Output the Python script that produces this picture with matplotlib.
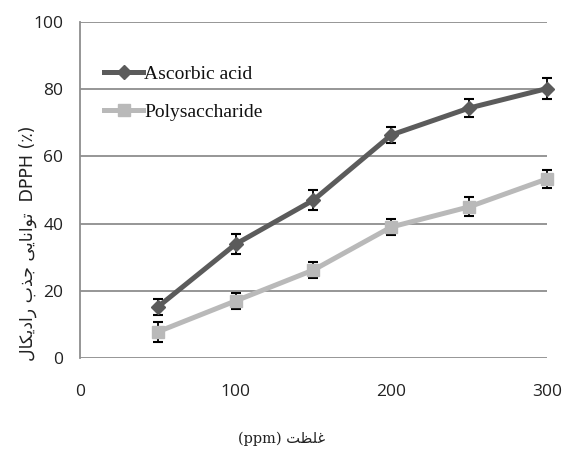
import matplotlib
matplotlib.use("Agg")
import matplotlib.pyplot as plt
from matplotlib.lines import Line2D
import numpy as np

# ---- data ----
conc = [50, 100, 150, 200, 250, 300]
ascorbic = [15.2, 33.9, 47.0, 66.4, 74.4, 80.2]
ascorbic_err = [2.5, 3.0, 3.0, 2.5, 2.8, 3.0]
poly = [7.8, 17.0, 26.2, 39.0, 45.0, 53.3]
poly_err = [3.0, 2.5, 2.5, 2.5, 2.8, 2.8]
series_names = ["Ascorbic acid", "Polysaccharide"]
xticks = [0, 100, 200, 300]
yticks = [0, 20, 40, 60, 80, 100]

# ---- minimal Arabic/Persian shaping for rendering ----
FORMS = {
    '\u062A': ('\uFE95', '\uFE96', '\uFE97', '\uFE98'),
    '\u0648': ('\uFEED', '\uFEEE', None, None),
    '\u0627': ('\uFE8D', '\uFE8E', None, None),
    '\u0646': ('\uFEE5', '\uFEE6', '\uFEE7', '\uFEE8'),
    '\u06CC': ('\uFBFC', '\uFBFD', '\uFBFE', '\uFBFF'),
    '\u062C': ('\uFE9D', '\uFE9E', '\uFE9F', '\uFEA0'),
    '\u0630': ('\uFEAB', '\uFEAC', None, None),
    '\u0628': ('\uFE8F', '\uFE90', '\uFE91', '\uFE92'),
    '\u0631': ('\uFEAD', '\uFEAE', None, None),
    '\u062F': ('\uFEA9', '\uFEAA', None, None),
    '\u06A9': ('\uFB8E', '\uFB8F', '\uFB90', '\uFB91'),
    '\u0644': ('\uFEDD', '\uFEDE', '\uFEDF', '\uFEE0'),
    '\u063A': ('\uFECD', '\uFECE', '\uFECF', '\uFED0'),
    '\u0638': ('\uFEC5', '\uFEC6', '\uFEC7', '\uFEC8'),
}


def dual(c):
    return c in FORMS and FORMS[c][2] is not None


def shape_word(w):
    out = []
    for i, c in enumerate(w):
        if c not in FORMS:
            out.append(c)
            continue
        jp = i > 0 and dual(w[i - 1])
        jn = i < len(w) - 1 and dual(c) and w[i + 1] in FORMS
        iso, fin, ini, med = FORMS[c]
        if jp and jn:
            out.append(med)
        elif jp:
            out.append(fin)
        elif jn:
            out.append(ini)
        else:
            out.append(iso)
    return ''.join(reversed(out))


ylabel_words = ["رادیکال", "جذب", "توانایی"]
ylabel_text = " ".join(shape_word(w) for w in ylabel_words) + "  DPPH (٪)"
xlabel_text = "(ppm) " + shape_word("غلظت")

# ---- figure ----
fig = plt.figure(figsize=(5.63, 4.59), dpi=100)
ax = fig.add_axes([0.142, 0.22, 0.8296, 0.732])

dark = '#5b5b5b'
light = '#b9b9b9'
ax.errorbar(conc, ascorbic, yerr=ascorbic_err, color=dark, lw=3.6,
            marker='D', ms=7, mfc=dark, mec=dark, ecolor='black',
            elinewidth=1.3, capsize=3.5, capthick=1.5, zorder=4)
ax.errorbar(conc, poly, yerr=poly_err, color=light, lw=3.6,
            marker='s', ms=9, mfc=light, mec=light, ecolor='black',
            elinewidth=1.3, capsize=3.5, capthick=1.5, zorder=3)

ax.set_xlim(0, 300)
ax.set_ylim(0, 100)
ax.set_xticks(xticks)
ax.set_yticks(yticks)
ax.yaxis.grid(True, color='#8e8e8e', lw=1.3)
ax.set_axisbelow(True)
for s in ['top', 'right', 'bottom']:
    ax.spines[s].set_visible(False)
ax.spines['left'].set_color('#8e8e8e')
ax.spines['left'].set_linewidth(1.3)
ax.tick_params(axis='both', length=0, labelsize=12.5)
ax.tick_params(axis='y', pad=12)
ax.tick_params(axis='x', pad=19)
for lab in ax.get_xticklabels() + ax.get_yticklabels():
    lab.set_family('Open Sans')
    lab.set_color('#222222')

for art in ax.get_children():
    try:
        art.set_clip_on(False)
    except Exception:
        pass

handles = [
    Line2D([], [], color=dark, lw=3.6, marker='D', ms=7, mfc=dark, mec=dark),
    Line2D([], [], color=light, lw=3.6, marker='s', ms=9, mfc=light, mec=light),
]
leg = ax.legend(handles, series_names, loc='upper left',
                bbox_to_anchor=(0.035, 0.895), frameon=False,
                prop={'family': 'Liberation Serif', 'size': 14},
                handlelength=2.0, handletextpad=0.05, labelspacing=1.05,
                borderaxespad=0)
for t in leg.get_texts():
    t.set_color('#111111')

fig.text(0.05, 0.47, ylabel_text, rotation=90, ha='center', va='center',
         fontsize=12.5, family=['DejaVu Sans'], color='#222222')
fig.text(0.50, 0.045, xlabel_text, ha='center', va='center',
         fontsize=10.5, family=['DejaVu Serif', 'DejaVu Sans'], color='#222222')

fig.savefig('out.png', dpi=100)
